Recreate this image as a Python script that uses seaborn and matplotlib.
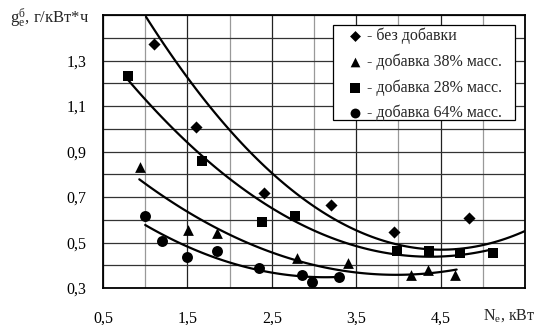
import seaborn as sns
import pandas as pd
import matplotlib.pyplot as plt
from matplotlib.patches import Rectangle
from matplotlib.ticker import MultipleLocator

# measured points
ne_base = [1.11, 1.60, 2.41, 3.20, 3.95, 4.84]
ge_base = [1.373, 1.007, 0.718, 0.667, 0.544, 0.608]

ne_38 = [0.94, 1.51, 1.85, 2.80, 3.40, 4.15, 4.35, 4.67]
ge_38 = [0.832, 0.557, 0.540, 0.430, 0.410, 0.357, 0.380, 0.357]

ne_28 = [0.80, 1.67, 2.38, 2.77, 3.98, 4.36, 4.73, 5.12]
ge_28 = [1.230, 0.860, 0.590, 0.616, 0.462, 0.462, 0.456, 0.452]

ne_64 = [1.00, 1.20, 1.50, 1.85, 2.35, 2.86, 2.98, 3.30]
ge_64 = [0.616, 0.506, 0.437, 0.462, 0.386, 0.357, 0.325, 0.347]

# points
cx_base = [1.01, 1.21, 1.50, 1.77, 2.06, 2.50, 2.85, 3.24, 3.66, 3.98, 4.29, 4.69, 5.00, 5.50]
cy_base = [1.50, 1.373, 1.22, 1.09, 0.968, 0.805, 0.71, 0.615, 0.522, 0.489, 0.467, 0.467, 0.489, 0.555]

cx_28 = [0.80, 1.17, 1.50, 1.81, 2.06, 2.46, 2.85, 3.25, 3.72, 4.05, 4.44, 4.84, 5.12]
cy_28 = [1.205, 1.08, 0.942, 0.832, 0.744, 0.657, 0.590, 0.525, 0.467, 0.435, 0.435, 0.449, 0.474]

cx_38 = [0.93, 1.25, 1.50, 1.81, 2.09, 2.46, 2.85, 3.25, 3.70, 4.17, 4.44, 4.69]
cy_38 = [0.777, 0.693, 0.640, 0.572, 0.514, 0.459, 0.415, 0.386, 0.363, 0.357, 0.367, 0.382]

cx_64 = [1.00, 1.25, 1.50, 1.81, 2.09, 2.46, 2.85, 3.30]
cy_64 = [0.572, 0.532, 0.484, 0.437, 0.398, 0.371, 0.350, 0.350]

labels = ["- без добавки", "- добавка 38% масс.", "- добавка 28% масс.", "- добавка 64% масс."]
x_ticks = [0.5, 1.5, 2.5, 3.5, 4.5]
y_ticks = [0.3, 0.5, 0.7, 0.9, 1.1, 1.3]

sns.set_style("white")
plt.rcParams['font.family'] = ['Liberation Serif', 'DejaVu Serif']
plt.rcParams['mathtext.fontset'] = 'custom'
plt.rcParams['mathtext.rm'] = 'Liberation Serif'
plt.rcParams['mathtext.it'] = 'Liberation Serif'

fig = plt.figure(figsize=(5.4, 3.25), dpi=100)
ax = fig.add_axes([103 / 540, 37 / 325, 422 / 540, 273 / 325])

# trend curves (2nd order, like the spreadsheet trendlines)
for cx, cy in [(cx_base, cy_base), (cx_28, cy_28), (cx_38, cy_38), (cx_64, cy_64)]:
    sns.regplot(x=cx, y=cy, order=2, scatter=False, ci=None, truncate=True, ax=ax,
                line_kws=dict(color='black', lw=1.6, zorder=3))

series = [(ne_base, ge_base, 'D', 38), (ne_38, ge_38, '^', 60),
          (ne_28, ge_28, 's', 58), (ne_64, ge_64, 'o', 62)]
for (x, y, m, s), lab in zip(series, labels):
    df = pd.DataFrame({'Ne': x, 'ge': y})
    sns.scatterplot(data=df, x='Ne', y='ge', marker=m, s=s, color='black',
                    edgecolor='black', linewidth=0, label=lab, ax=ax, zorder=4)

ax.set_xlim(0.5, 5.5)
ax.set_ylim(0.3, 1.5)
ax.set_xticks(x_ticks)
ax.set_xticklabels([f"{v:.1f}".replace('.', ',') for v in x_ticks])
ax.set_yticks(y_ticks)
ax.set_yticklabels([f"{v:.1f}".replace('.', ',') for v in y_ticks])
ax.xaxis.set_minor_locator(MultipleLocator(0.5))
ax.yaxis.set_minor_locator(MultipleLocator(0.1))
ax.tick_params(which='both', length=0, labelsize=11.5, colors='black')
ax.tick_params(axis='x', pad=16)
ax.tick_params(axis='y', pad=12)
ax.grid(which='major', axis='x', color='#222222', lw=0.9)
ax.grid(which='minor', axis='x', color='#999999', lw=0.9)
ax.grid(which='both', axis='y', color='#333333', lw=0.9)
ax.set_axisbelow(True)
for sp in ax.spines.values():
    sp.set_color('black')
    sp.set_linewidth(1.3)
ax.set_xlabel('')
ax.set_ylabel('')

fig.text(10 / 540, 1 - 23 / 325, r"g$_\mathrm{e}^\mathrm{б}$, г/кВт*ч", fontsize=12, va='baseline')
fig.text(483 / 540, 1 - 316 / 325, r"N$_\mathrm{e}$, кВт", fontsize=11.5, va='center')

# legend box drawn separately so its padding matches the original
box = Rectangle((333 / 540, 1 - 120 / 325), 182 / 540, 95 / 325, transform=fig.transFigure,
                facecolor='white', edgecolor='black', lw=0.9, zorder=5, clip_on=False)
ax.add_patch(box)
leg = ax.legend(loc='upper left', bbox_to_anchor=(349 / 540, 1 - 28 / 325),
                bbox_transform=fig.transFigure, frameon=False, fontsize=11.5,
                handlelength=0.8, handletextpad=0.3, labelspacing=0.57,
                borderpad=0, borderaxespad=0, markerscale=0.9)
leg.set_zorder(6)

fig.savefig('out.png', dpi=100)
